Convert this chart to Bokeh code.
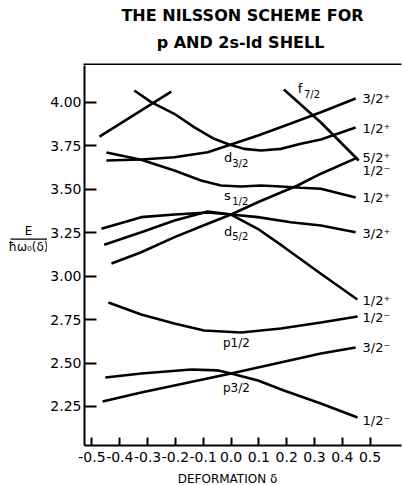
from bokeh.plotting import figure
from bokeh.layouts import column, row
from bokeh.models import Range1d, FixedTicker, ColumnDataSource
from bokeh.core.properties import value
from bokeh.embed import file_html
from bokeh.resources import INLINE

FONT = "DejaVu Sans"

# ---------------- data (deformation delta, E / hbar omega0) ----------------
# p shell
p32_k12_x = [-0.452, -0.323, -0.143, -0.050, 0.000, 0.097, 0.190, 0.323, 0.455]
p32_k12_y = [2.417, 2.440, 2.463, 2.458, 2.440, 2.400, 2.342, 2.267, 2.187]
p32_k32_x = [-0.462, -0.323, 0.000, 0.323, 0.448]
p32_k32_y = [2.279, 2.330, 2.440, 2.555, 2.590]
p12_x = [-0.441, -0.323, -0.204, -0.097, 0.036, 0.179, 0.323, 0.455]
p12_y = [2.849, 2.780, 2.728, 2.687, 2.676, 2.699, 2.733, 2.768]
# 2s-1d shell
d32_k32_x = [-0.448, -0.323, -0.204, -0.084, 0.000, 0.097, 0.215, 0.323, 0.448]
d32_k32_y = [3.666, 3.672, 3.685, 3.714, 3.758, 3.810, 3.879, 3.944, 4.023]
d32_k12_x = [-0.348, -0.287, -0.204, -0.133, -0.061, -0.007, 0.047, 0.108, 0.179, 0.251, 0.323, 0.448]
d32_k12_y = [4.069, 4.002, 3.935, 3.858, 3.791, 3.758, 3.733, 3.724, 3.733, 3.762, 3.787, 3.856]
s12_x = [-0.448, -0.323, -0.204, -0.108, -0.036, 0.036, 0.108, 0.179, 0.251, 0.323, 0.448]
s12_y = [3.712, 3.670, 3.609, 3.551, 3.522, 3.516, 3.522, 3.516, 3.509, 3.503, 3.453]
d52_k52_x = [-0.430, -0.323, -0.203, -0.084, 0.000, 0.096, 0.239, 0.323, 0.448]
d52_k52_y = [3.073, 3.138, 3.225, 3.302, 3.355, 3.426, 3.522, 3.590, 3.678]
d52_k32_x = [-0.466, -0.323, -0.203, -0.084, 0.000, 0.096, 0.215, 0.323, 0.448]
d52_k32_y = [3.273, 3.340, 3.355, 3.367, 3.355, 3.340, 3.311, 3.292, 3.253]
d52_k12_x = [-0.456, -0.323, -0.203, -0.084, 0.000, 0.096, 0.191, 0.323, 0.454]
d52_k12_y = [3.181, 3.253, 3.321, 3.372, 3.355, 3.273, 3.167, 3.014, 2.866]
f72_x = [0.190, 0.323, 0.459]
f72_y = [4.075, 3.885, 3.666]
upper_x = [-0.473, -0.215]
upper_y = [3.804, 4.063]

curves = [
    (p32_k12_x, p32_k12_y), (p32_k32_x, p32_k32_y), (p12_x, p12_y),
    (d32_k32_x, d32_k32_y), (d32_k12_x, d32_k12_y), (s12_x, s12_y),
    (d52_k52_x, d52_k52_y), (d52_k32_x, d52_k32_y), (d52_k12_x, d52_k12_y),
    (f72_x, f72_y), (upper_x, upper_y),
]

# right-hand quantum number labels
end_labels = ["3/2\u207a", "1/2\u207a", "5/2\u207a", "1/2\u207b", "1/2\u207a",
              "3/2\u207a", "1/2\u207a", "1/2\u207b", "3/2\u207b", "1/2\u207b"]
end_label_y = [4.023, 3.850, 3.683, 3.609, 3.453, 3.246, 2.860, 2.762, 2.590, 2.169]
end_label_x = 0.473

# orbital labels (letter + subscript)
orb_letters = ["d", "s", "d", "f"]
orb_letter_x = [-0.025, -0.025, -0.025, 0.240]
orb_letter_y = [3.683, 3.462, 3.257, 4.081]
orb_subs = ["3/2", "1/2", "5/2", "7/2"]
orb_sub_x = [0.004, 0.004, 0.004, 0.262]
orb_sub_y = [3.649, 3.430, 3.226, 4.046]
p_labels = ["p1/2", "p3/2"]
p_label_x = [-0.029, -0.029]
p_label_y = [2.613, 2.359]

x_ticks = [-0.5, -0.4, -0.3, -0.2, -0.1, 0.0, 0.1, 0.2, 0.3, 0.4, 0.5]
x_tick_labels = ["-0.5", "-0.4", "-0.3", "-0.2", "-0.1", "0.0", "0.1", "0.2", "0.3", "0.4", "0.5"]
y_ticks = [2.25, 2.50, 2.75, 3.00, 3.25, 3.50, 3.75, 4.00]
y_tick_labels = ["2.25", "2.50", "2.75", "3.00", "3.25", "3.50", "3.75", "4.00"]

title_lines = ["THE NILSSON SCHEME FOR", "p AND 2s-ld SHELL"]
x_title = "DEFORMATION \u03b4"
y_num = "E"
y_den = "\u0127\u03c9\u2080(\u03b4)"


def text_fig(w, h):
    f = figure(width=w, height=h, output_backend="svg", toolbar_location=None,
               x_range=Range1d(0, w), y_range=Range1d(h, 0), min_border=0)
    f.axis.visible = False
    f.grid.visible = False
    f.outline_line_color = None
    f.background_fill_color = "white"
    f.border_fill_color = "white"
    return f


# ---------------- title strip (also carries the frame's top rule) ----------------
tf = text_fig(402, 65)
tf.text(x=[242, 240], y=[15, 42], text=title_lines, text_font=value(FONT),
        text_font_size="16px", text_font_style="bold", text_align="center",
        text_baseline="middle", text_color="black")
tf.line(x=[83, 401], y=[64, 64], line_color="black", line_width=2)

# ---------------- y-axis title strip ----------------
lf = text_fig(47, 405)
lf.text(x=[28, 28], y=[176, 193], text=[y_num, y_den], text_font=value(FONT),
        text_font_size="12px", text_align="center", text_baseline="middle", text_color="black")
lf.line(x=[10, 47], y=[185, 185], line_color="black", line_width=1.3)

# ---------------- main plot ----------------
p = figure(width=355, height=405, output_backend="svg", toolbar_location=None,
           x_range=Range1d(-0.5269, 0.6129), y_range=Range1d(2.0253, 4.2130),
           min_border_left=36, min_border_right=1, min_border_top=0, min_border_bottom=25)
p.outline_line_color = None
p.grid.visible = False
p.background_fill_color = "white"
p.border_fill_color = "white"

for ax in (p.xaxis[0], p.yaxis[0]):
    ax.axis_line_width = 2
    ax.axis_line_color = "black"
    ax.major_tick_line_width = 2
    ax.major_tick_line_color = "black"
    ax.minor_tick_line_color = None
    ax.major_tick_out = 0
    ax.major_label_text_font = FONT
    ax.major_label_text_color = "black"

p.xaxis.ticker = FixedTicker(ticks=x_ticks)
p.xaxis.major_label_overrides = {t: s for t, s in zip(x_ticks, x_tick_labels)}
p.xaxis.major_tick_in = 8
p.xaxis.major_label_text_font_size = "14px"
p.xaxis.major_label_standoff = 6

p.yaxis.ticker = FixedTicker(ticks=y_ticks)
p.yaxis.major_label_overrides = {t: s for t, s in zip(y_ticks, y_tick_labels)}
p.yaxis.major_tick_in = 12
p.yaxis.major_label_text_font_size = "14px"
p.yaxis.major_label_standoff = 3

for xs, ys in curves:
    p.line(xs, ys, line_color="black", line_width=2.6)

src_end = ColumnDataSource(dict(x=[end_label_x] * len(end_labels), y=end_label_y, t=end_labels))
p.text(x="x", y="y", text="t", source=src_end, text_font=value(FONT), text_font_size="13px",
       text_align="left", text_baseline="middle", text_color="black")

src_l = ColumnDataSource(dict(x=orb_letter_x, y=orb_letter_y, t=orb_letters))
p.text(x="x", y="y", text="t", source=src_l, text_font=value(FONT), text_font_size="13px",
       text_align="left", text_baseline="middle", text_color="black")
src_s = ColumnDataSource(dict(x=orb_sub_x, y=orb_sub_y, t=orb_subs))
p.text(x="x", y="y", text="t", source=src_s, text_font=value(FONT), text_font_size="10px",
       text_align="left", text_baseline="middle", text_color="black")
src_p = ColumnDataSource(dict(x=p_label_x, y=p_label_y, t=p_labels))
p.text(x="x", y="y", text="t", source=src_p, text_font=value(FONT), text_font_size="12px",
       text_align="left", text_baseline="middle", text_color="black")

# ---------------- x-axis title strip ----------------
bf = text_fig(402, 15)
bf.text(x=[227], y=[8], text=[x_title], text_font=value(FONT), text_font_size="12px",
        text_align="center", text_baseline="middle", text_color="black")

layout = column(tf, row(lf, p, spacing=0), bf, spacing=0)

open("out.html", "w").write(file_html(layout, INLINE))
